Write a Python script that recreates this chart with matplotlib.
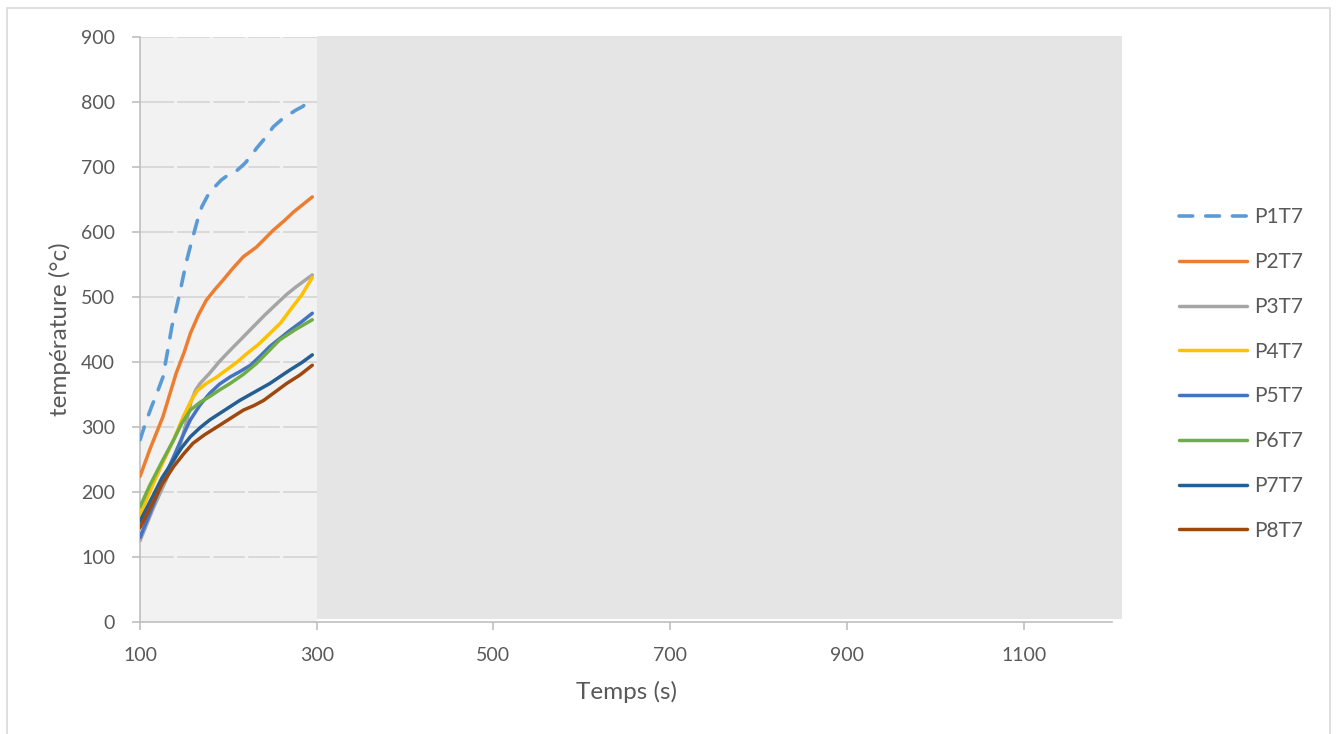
import matplotlib
matplotlib.use("Agg")
import matplotlib.pyplot as plt
from matplotlib.patches import Rectangle

plt.rcParams['font.family'] = ['Lato', 'DejaVu Sans']

# ---- data ----
labels = ["P1T7", "P2T7", "P3T7", "P4T7", "P5T7", "P6T7", "P7T7", "P8T7"]
colors = ["#5B9BD5", "#ED7D31", "#A5A5A5", "#FFC000", "#4472C4", "#70AD47", "#255E91", "#9E480E"]

p1_x = [100, 106, 113, 120, 126, 131, 136, 141, 145, 149, 153, 157, 160, 165, 170, 177, 185, 192, 200, 210, 219, 226, 232, 240, 251, 262, 270, 277, 284, 290]
p1_y = [280, 305, 331, 355, 377, 415, 454, 482, 506, 532, 557, 578, 593, 618, 639, 657, 670, 680, 688, 695, 706, 718, 729, 742, 762, 775, 782, 788, 793, 800]

p2_x = [100, 111, 126, 141, 150, 157, 166, 175, 185, 194, 205, 217, 232, 251, 263, 274, 285, 295]
p2_y = [224, 265, 316, 383, 415, 444, 472, 495, 512, 526, 544, 562, 577, 603, 617, 631, 643, 654]

p3_x = [100, 115, 130, 145, 152, 158, 163, 168, 179, 190, 202, 215, 228, 241, 255, 266, 277, 287, 295]
p3_y = [125, 175, 220, 270, 305, 340, 357, 367, 383, 401, 418, 436, 454, 472, 490, 504, 516, 526, 534]

p4_x = [100, 111, 125, 138, 149, 158, 165, 175, 186, 198, 210, 221, 234, 247, 259, 270, 283, 295]
p4_y = [165, 200, 243, 280, 316, 341, 356, 367, 376, 388, 400, 413, 427, 444, 460, 480, 503, 530]

p5_x = [100, 115, 125, 138, 148, 157, 168, 179, 190, 202, 214, 225, 236, 247, 259, 270, 283, 295]
p5_y = [130, 180, 215, 254, 285, 311, 334, 352, 366, 377, 386, 395, 409, 424, 437, 449, 462, 475]

p6_x = [100, 111, 125, 138, 147, 157, 168, 179, 190, 202, 217, 232, 245, 258, 276, 295]
p6_y = [177, 210, 247, 280, 305, 326, 338, 347, 357, 367, 381, 398, 416, 434, 450, 465]

p7_x = [100, 115, 125, 138, 147, 157, 168, 179, 196, 213, 230, 247, 259, 270, 283, 295]
p7_y = [155, 195, 222, 249, 268, 285, 299, 311, 326, 341, 354, 367, 378, 388, 399, 411]

p8_x = [100, 115, 125, 138, 149, 160, 173, 187, 202, 217, 229, 240, 253, 266, 281, 295]
p8_y = [145, 185, 212, 239, 258, 275, 288, 300, 313, 326, 333, 341, 354, 367, 380, 395]

series_x = [p1_x, p2_x, p3_x, p4_x, p5_x, p6_x, p7_x, p8_x]
series_y = [p1_y, p2_y, p3_y, p4_y, p5_y, p6_y, p7_y, p8_y]

x_ticks = [100, 300, 500, 700, 900, 1100]
y_ticks = [0, 100, 200, 300, 400, 500, 600, 700, 800, 900]
light_zone = (100, 300)
dark_zone = (300, 1211)

# ---- figure ----
W, H = 1338, 734
fig = plt.figure(figsize=(W / 100, H / 100), dpi=100)
fig.patch.set_facecolor("white")
ax = fig.add_axes([140 / W, (H - 622) / H, (1112 - 140) / W, (622 - 37) / H])
ax.set_facecolor("white")

ax.set_xlim(100, 1200)
ax.set_ylim(0, 900)

# background zones
ax.add_patch(Rectangle((light_zone[0], 0), light_zone[1] - light_zone[0], 900,
                       facecolor="#F2F2F2", edgecolor="none", zorder=0))
ax.add_patch(Rectangle((dark_zone[0], 5), dark_zone[1] - dark_zone[0], 897,
                       facecolor="#E5E5E5", edgecolor="none", zorder=1.2, clip_on=False))

# gridlines
for yv in y_ticks[1:]:
    ax.axhline(yv, color="#D9D9D9", lw=1.4, zorder=0.5)
for xv in [140, 180, 220, 260]:
    ax.axvline(xv, color="#F2F2F2", lw=2.5, zorder=0.6)

# series
for i, (xs, ys) in enumerate(zip(series_x, series_y)):
    if i == 0:
        ax.plot(xs, ys, color=colors[i], lw=2.6, label=labels[i], zorder=3,
                dashes=(3.8, 3.6), dash_capstyle="round", solid_capstyle="round")
    else:
        ax.plot(xs, ys, color=colors[i], lw=2.5, label=labels[i], zorder=3,
                solid_capstyle="round", solid_joinstyle="round")

# axes styling
for s in ["top", "right"]:
    ax.spines[s].set_visible(False)
for s in ["left", "bottom"]:
    ax.spines[s].set_color("#BFBFBF")
    ax.spines[s].set_linewidth(1.2)
    ax.spines[s].set_zorder(2)
ax.set_xticks(x_ticks)
ax.set_yticks(y_ticks)
ax.tick_params(axis="both", colors="#BFBFBF", length=6, width=1.2, labelcolor="#595959",
               labelsize=14)
ax.tick_params(axis="y", pad=12)
ax.tick_params(axis="x", pad=12)

ax.set_xlabel("Temps (s)", fontsize=17.5, color="#595959")
ax.set_ylabel("température (°c)", fontsize=17.5, color="#595959")
ax.xaxis.set_label_coords((626 - 140) / (1112 - 140), -(692 - 622) / (622 - 37), transform=ax.transAxes)
ax.yaxis.set_label_coords(-(140 - 60) / (1112 - 140), 0.5, transform=ax.transAxes)
ax.xaxis.label.set_va("center")
ax.yaxis.label.set_va("center")

# legend
leg = fig.legend(loc="center left", bbox_to_anchor=(1171 / W, 1 - 374 / H), frameon=False,
                 fontsize=15, labelcolor="#595959", handlelength=3.27, labelspacing=1.19,
                 handletextpad=0.3, borderaxespad=0)

# outer border
fig.patches.append(Rectangle((7 / W, -0.1), (1330 - 7) / W, 1.1 - 8 / H, transform=fig.transFigure,
                             facecolor="none", edgecolor="#D9D9D9", lw=1.2))

fig.savefig("out.png", dpi=100)
